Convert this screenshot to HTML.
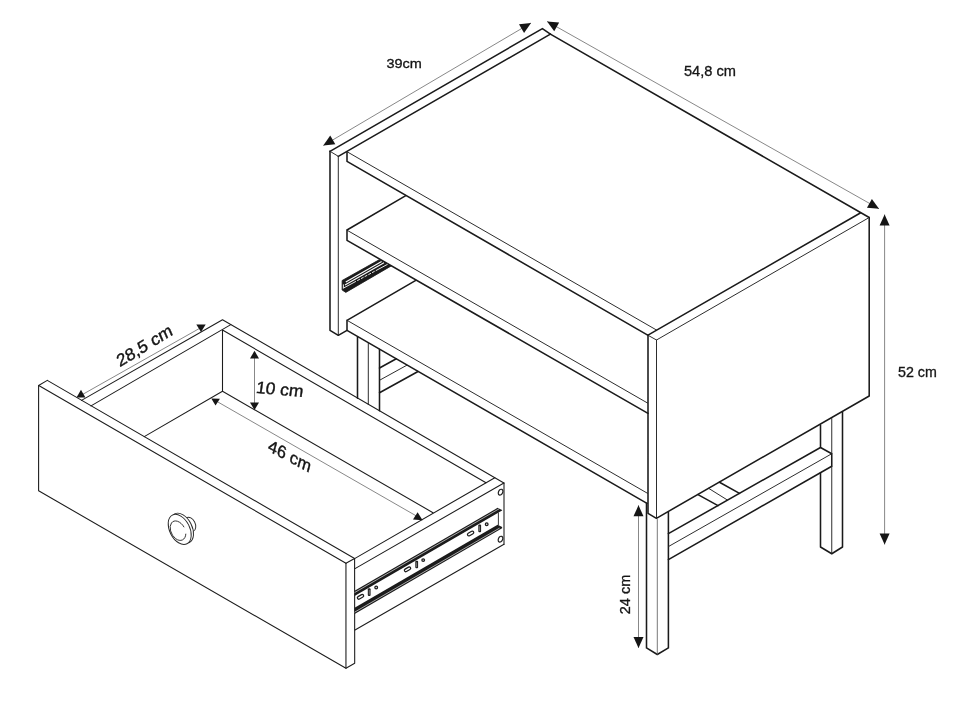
<!DOCTYPE html>
<html><head><meta charset="utf-8"><title>Nightstand dimensions</title>
<style>html,body{margin:0;padding:0;background:#fff}body{width:964px;height:708px;overflow:hidden;font-family:"Liberation Sans",sans-serif}svg{display:block;filter:grayscale(1)}</style>
</head><body>
<svg width="964" height="708" viewBox="0 0 964 708">
<rect width="964" height="708" fill="#fff"/>
<path d="M330.00,151.30 L542.40,28.60 L550.40,34.20" stroke="#1a1a1a" stroke-width="1.55" stroke-linecap="round" stroke-linejoin="round" fill="none"/>
<path d="M338.30,156.30 L550.40,34.20" stroke="#1a1a1a" stroke-width="1.55" stroke-linecap="round" stroke-linejoin="round" fill="none"/>
<path d="M330.00,151.30 L330.00,330.30 L338.30,335.30 L347.00,330.30" stroke="#1a1a1a" stroke-width="1.55" stroke-linecap="round" stroke-linejoin="round" fill="none"/>
<path d="M330.00,151.30 L338.30,156.30 L338.30,335.30" stroke="#222" stroke-width="0.95" stroke-linecap="round" fill="none"/>
<path d="M347.00,151.70 L347.00,161.30 L647.70,335.10" stroke="#1a1a1a" stroke-width="1.55" stroke-linecap="round" stroke-linejoin="round" fill="none"/>
<path d="M347.00,151.70 L656.60,330.10" stroke="#222" stroke-width="0.95" stroke-linecap="round" fill="none"/>
<path d="M550.40,34.20 L869.20,217.50 L869.20,396.00 L656.40,518.30 L648.00,513.30 L648.00,335.10 L860.30,213.00" stroke="#1a1a1a" stroke-width="1.55" stroke-linecap="round" stroke-linejoin="round" fill="none"/>
<path d="M647.70,335.10 L656.50,340.00 L869.20,217.50" stroke="#222" stroke-width="0.95" stroke-linecap="round" fill="none"/>
<path d="M656.50,340.00 L656.50,518.30" stroke="#222" stroke-width="0.95" stroke-linecap="round" fill="none"/>
<path d="M405.80,195.60 L347.00,230.00 L347.00,240.30 L648.00,413.30" stroke="#1a1a1a" stroke-width="1.55" stroke-linecap="round" stroke-linejoin="round" fill="none"/>
<path d="M347.00,230.20 L647.50,403.00" stroke="#222" stroke-width="0.95" stroke-linecap="round" fill="none"/>
<path d="M415.80,280.40 L347.00,320.30 L347.00,330.30 L647.00,503.30" stroke="#1a1a1a" stroke-width="1.55" stroke-linecap="round" stroke-linejoin="round" fill="none"/>
<path d="M347.00,320.30 L647.50,493.30" stroke="#222" stroke-width="0.95" stroke-linecap="round" fill="none"/>
<path d="M357.50,337.00 L357.50,398.20" stroke="#1a1a1a" stroke-width="1.55" stroke-linecap="round" stroke-linejoin="round" fill="none"/>
<path d="M368.30,343.30 L368.30,404.40" stroke="#222" stroke-width="0.95" stroke-linecap="round" fill="none"/>
<path d="M379.50,349.50 L379.50,410.80" stroke="#1a1a1a" stroke-width="1.55" stroke-linecap="round" stroke-linejoin="round" fill="none"/>
<path d="M379.50,368.00 L396.30,358.70" stroke="#1a1a1a" stroke-width="1.55" stroke-linecap="round" stroke-linejoin="round" fill="none"/>
<path d="M379.50,380.30 L406.70,365.30" stroke="#222" stroke-width="0.95" stroke-linecap="round" fill="none"/>
<path d="M379.50,392.70 L418.00,371.50" stroke="#1a1a1a" stroke-width="1.55" stroke-linecap="round" stroke-linejoin="round" fill="none"/>
<path d="M646.50,503.30 L646.50,647.90 L657.30,654.50 L668.40,647.90 L668.40,512.20" stroke="#1a1a1a" stroke-width="1.55" stroke-linecap="round" stroke-linejoin="round" fill="none"/>
<path d="M657.30,518.80 L657.30,654.50" stroke="#6a6a6a" stroke-width="0.9" fill="none"/>
<path d="M668.40,533.60 L820.50,447.50 L831.75,453.75 L831.75,466.25 L668.40,559.60" stroke="#1a1a1a" stroke-width="1.55" stroke-linecap="round" stroke-linejoin="round" fill="none"/>
<path d="M668.40,546.60 L831.75,453.75" stroke="#222" stroke-width="0.95" stroke-linecap="round" fill="none"/>
<path d="M820.50,425.00 L820.50,447.50" stroke="#1a1a1a" stroke-width="1.55" stroke-linecap="round" stroke-linejoin="round" fill="none"/>
<path d="M820.50,472.80 L820.50,547.00 L831.75,553.75 L842.50,547.00 L842.50,412.00" stroke="#1a1a1a" stroke-width="1.55" stroke-linecap="round" stroke-linejoin="round" fill="none"/>
<path d="M831.75,418.50 L831.75,453.75" stroke="#222" stroke-width="0.95" stroke-linecap="round" fill="none"/>
<path d="M831.75,466.25 L831.75,553.75" stroke="#222" stroke-width="0.95" stroke-linecap="round" fill="none"/>
<path d="M698.00,494.60 L718.00,505.60" stroke="#1a1a1a" stroke-width="1.55" stroke-linecap="round" stroke-linejoin="round" fill="none"/>
<path d="M708.75,488.40 L727.50,500.10" stroke="#222" stroke-width="0.95" stroke-linecap="round" fill="none"/>
<path d="M719.50,482.20 L739.50,493.40" stroke="#1a1a1a" stroke-width="1.55" stroke-linecap="round" stroke-linejoin="round" fill="none"/>
<polygon points="342.1,280.5 379.1,259.8 391.3,265.9 345.8,292.4 342.1,290" fill="#1a1a1a" stroke="#1a1a1a" stroke-width="0.8" stroke-linejoin="round"/>
<path d="M345.8,282 L381.6,261.4" stroke="#fff" stroke-width="1.1"/>
<path d="M345.0,285 L384,262.7" stroke="#fff" stroke-width="1.1"/>
<path d="M343.6,288 L387.6,264.3" stroke="#fff" stroke-width="0.9" stroke-dasharray="14,1.5,3,1.2,3,1.2,3,1.2,3,1.2,3,1.2"/>
<path d="M343.4,284.4 L343.4,288.5" stroke="#fff" stroke-width="0.9"/>
<path d="M323.30,145.50 L531.00,23.00" stroke="#555" stroke-width="0.7" fill="none"/>
<polygon points="323.30,145.50 330.23,135.61 335.31,144.22" fill="#151515"/>
<polygon points="531.00,23.00 524.07,32.89 518.99,24.28" fill="#151515"/>
<path d="M547.10,21.40 L879.00,208.75" stroke="#555" stroke-width="0.7" fill="none"/>
<polygon points="547.10,21.40 559.14,22.45 554.22,31.16" fill="#151515"/>
<polygon points="879.00,208.75 866.96,207.70 871.88,198.99" fill="#151515"/>
<path d="M884.60,214.50 L884.60,544.50" stroke="#555" stroke-width="0.7" fill="none"/>
<polygon points="884.60,214.50 889.60,225.50 879.60,225.50" fill="#151515"/>
<polygon points="884.60,544.50 879.60,533.50 889.60,533.50" fill="#151515"/>
<path d="M638.50,505.30 L638.50,647.90" stroke="#555" stroke-width="0.7" fill="none"/>
<polygon points="638.50,505.30 643.50,516.30 633.50,516.30" fill="#151515"/>
<polygon points="638.50,647.90 633.50,636.90 643.50,636.90" fill="#151515"/>
<path d="M47.30,380.40 L38.60,385.50 L38.60,490.75 L345.95,668.30 L354.70,663.30 L354.60,558.50 L47.30,380.40" stroke="#1c1c1c" stroke-width="1.08" stroke-linecap="round" stroke-linejoin="round" fill="none"/>
<path d="M38.75,385.50 L345.95,563.30 L354.60,558.50" stroke="#1c1c1c" stroke-width="1.08" stroke-linecap="round" stroke-linejoin="round" fill="none"/>
<path d="M345.95,563.30 L345.95,668.30" stroke="#1c1c1c" stroke-width="1.08" stroke-linecap="round" stroke-linejoin="round" fill="none"/>
<path d="M81.50,400.40 L222.50,319.70 L503.90,483.00" stroke="#1c1c1c" stroke-width="1.08" stroke-linecap="round" stroke-linejoin="round" fill="none"/>
<path d="M504.00,544.30 L355.00,630.00" stroke="#1c1c1c" stroke-width="1.08" stroke-linecap="round" stroke-linejoin="round" fill="none"/>
<path d="M504.00,483.10 L504.00,544.30" stroke="#1c1c1c" stroke-width="1.08" stroke-linecap="round" stroke-linejoin="round" fill="none"/>
<path d="M91.00,405.90 L230.80,324.60" stroke="#1c1c1c" stroke-width="1.08" stroke-linecap="round" stroke-linejoin="round" fill="none"/>
<path d="M144.25,436.60 L222.50,391.30 L433.00,512.70" stroke="#1c1c1c" stroke-width="1.08" stroke-linecap="round" stroke-linejoin="round" fill="none"/>
<path d="M222.50,391.30 L222.50,330.00 L486.00,482.70" stroke="#1c1c1c" stroke-width="1.08" stroke-linecap="round" stroke-linejoin="round" fill="none"/>
<path d="M354.60,558.60 L494.80,477.70" stroke="#1c1c1c" stroke-width="1.08" stroke-linecap="round" stroke-linejoin="round" fill="none"/>
<path d="M355.00,568.60 L503.90,483.00" stroke="#1c1c1c" stroke-width="1.08" stroke-linecap="round" stroke-linejoin="round" fill="none"/>
<polygon points="354.6,590.78 497.6,507.84 502.1,510.04 502.1,510.43 354.6,595.98" fill="#1b1b1b"/>
<path d="M354.6,592.58 L499.6,508.48" stroke="#d8d8d8" stroke-width="0.75"/>
<polygon points="354.6,607.68 497.6,524.74 502.1,526.94 502.1,528.33 354.6,613.88" fill="#1b1b1b"/>
<path d="M354.6,612.18 L499.6,528.08" stroke="#d8d8d8" stroke-width="0.75"/>
<path d="M498.40,512.50 L498.40,525.00" stroke="#222" stroke-width="0.9" fill="none"/>
<rect x="-3.4" y="-1.4" width="6.8" height="2.8" rx="1.4" transform="translate(360.5,596.8) rotate(-30)" fill="#fff" stroke="#1c1c1c" stroke-width="1.25"/>
<rect x="367.80" y="588.30" width="2.8" height="7.6" rx="1" fill="#222"/><rect x="368.85" y="589.90" width="0.7" height="4.8" fill="#9a9a9a"/>
<circle cx="376.2" cy="587.5" r="1.35" fill="#e6e6e6" stroke="#1c1c1c" stroke-width="1.25"/>
<rect x="-3.4" y="-1.4" width="6.8" height="2.8" rx="1.4" transform="translate(407.5,569.3) rotate(-30)" fill="#fff" stroke="#1c1c1c" stroke-width="1.25"/>
<rect x="415.30" y="560.70" width="2.8" height="7.6" rx="1" fill="#222"/><rect x="416.35" y="562.30" width="0.7" height="4.8" fill="#9a9a9a"/>
<circle cx="423.2" cy="560.1" r="1.35" fill="#e6e6e6" stroke="#1c1c1c" stroke-width="1.25"/>
<rect x="-3.4" y="-1.4" width="6.8" height="2.8" rx="1.4" transform="translate(470.6,533.5) rotate(-30)" fill="#fff" stroke="#1c1c1c" stroke-width="1.25"/>
<rect x="478.30" y="524.60" width="2.8" height="7.6" rx="1" fill="#222"/><rect x="479.35" y="526.20" width="0.7" height="4.8" fill="#9a9a9a"/>
<circle cx="486.7" cy="524.2" r="1.35" fill="#e6e6e6" stroke="#1c1c1c" stroke-width="1.25"/>
<ellipse cx="0" cy="0" rx="2.1" ry="3.1" transform="translate(500.6,492.2) rotate(25)" fill="#fff" stroke="#222" stroke-width="1.2"/>
<ellipse cx="0" cy="0" rx="2.1" ry="3.1" transform="translate(500.5,539.2) rotate(25)" fill="#fff" stroke="#222" stroke-width="1.2"/>
<ellipse cx="0" cy="0" rx="5.2" ry="7.6" transform="translate(190.0,524.4) rotate(-27)" stroke="#2a2a2a" stroke-width="0.95" fill="#fff"/>
<ellipse cx="0" cy="0" rx="10.0" ry="16.1" transform="translate(182.0,528.2) rotate(-27)" stroke="#2a2a2a" stroke-width="0.95" fill="#fff"/>
<ellipse cx="0" cy="0" rx="10.0" ry="16.1" transform="translate(179.7,529.4) rotate(-27)" stroke="#2a2a2a" stroke-width="0.95" fill="#fff"/>
<path d="M183.9,526.9 A7,10.4 -27 1 0 185.8,534.1" stroke="#2a2a2a" stroke-width="0.95" fill="none" stroke-linecap="round"/>
<path d="M83.00,394.20 L199.50,328.40" stroke="#555" stroke-width="0.7" fill="none"/>
<polygon points="81.00,389.80 76.50,397.40 85.40,397.40" fill="#151515"/>
<polygon points="196.30,324.40 205.70,324.40 201.00,332.00" fill="#151515"/>
<path d="M216.50,401.20 L417.50,516.60" stroke="#555" stroke-width="0.7" fill="none"/>
<polygon points="211.30,398.50 219.90,398.80 215.50,405.60" fill="#151515"/>
<polygon points="417.60,512.20 413.00,519.60 422.60,520.20" fill="#151515"/>
<path d="M254.50,352.00 L254.50,409.00" stroke="#555" stroke-width="0.7" fill="none"/>
<polygon points="254.50,350.80 250.00,358.40 259.00,358.40" fill="#151515"/>
<polygon points="254.50,410.00 250.00,402.40 259.00,402.40" fill="#151515"/>
<text x="386.5" y="67.7" font-size="13.6" textLength="35.4" lengthAdjust="spacingAndGlyphs" font-family="Liberation Sans, sans-serif" fill="#151515" stroke="#151515" stroke-width="0.32">39cm</text>
<text x="683.9" y="75.5" font-size="14.5" textLength="52" lengthAdjust="spacingAndGlyphs" font-family="Liberation Sans, sans-serif" fill="#151515" stroke="#151515" stroke-width="0.32">54,8 cm</text>
<text x="898" y="376.7" font-size="14.4" textLength="38.8" lengthAdjust="spacingAndGlyphs" font-family="Liberation Sans, sans-serif" fill="#151515" stroke="#151515" stroke-width="0.32">52 cm</text>
<text x="0" y="0" font-size="14.8" textLength="39.5" lengthAdjust="spacingAndGlyphs" font-family="Liberation Sans, sans-serif" fill="#151515" stroke="#151515" stroke-width="0.32" transform="translate(629.9,614.2) rotate(-90)">24 cm</text>
<text x="0" y="0" font-size="17" textLength="63.2" lengthAdjust="spacingAndGlyphs" font-family="Liberation Sans, sans-serif" fill="#151515" stroke="#151515" stroke-width="0.32" transform="matrix(0.853,-0.521,0.40,0.91,119.8,367.3)" style="stroke-width:0.4">28,5 cm</text>
<text x="0" y="0" font-size="17" textLength="47.6" lengthAdjust="spacingAndGlyphs" font-family="Liberation Sans, sans-serif" fill="#151515" stroke="#151515" stroke-width="0.32" transform="matrix(0.883,0.469,-0.263,0.965,267.3,450.4)" style="stroke-width:0.4">46 cm</text>
<text x="0" y="0" font-size="17" textLength="47.4" lengthAdjust="spacingAndGlyphs" font-family="Liberation Sans, sans-serif" fill="#151515" stroke="#151515" stroke-width="0.32" transform="matrix(0.996,0.087,-0.14,0.99,255.4,393.0)" style="stroke-width:0.4">10 cm</text>
</svg>
</body></html>
